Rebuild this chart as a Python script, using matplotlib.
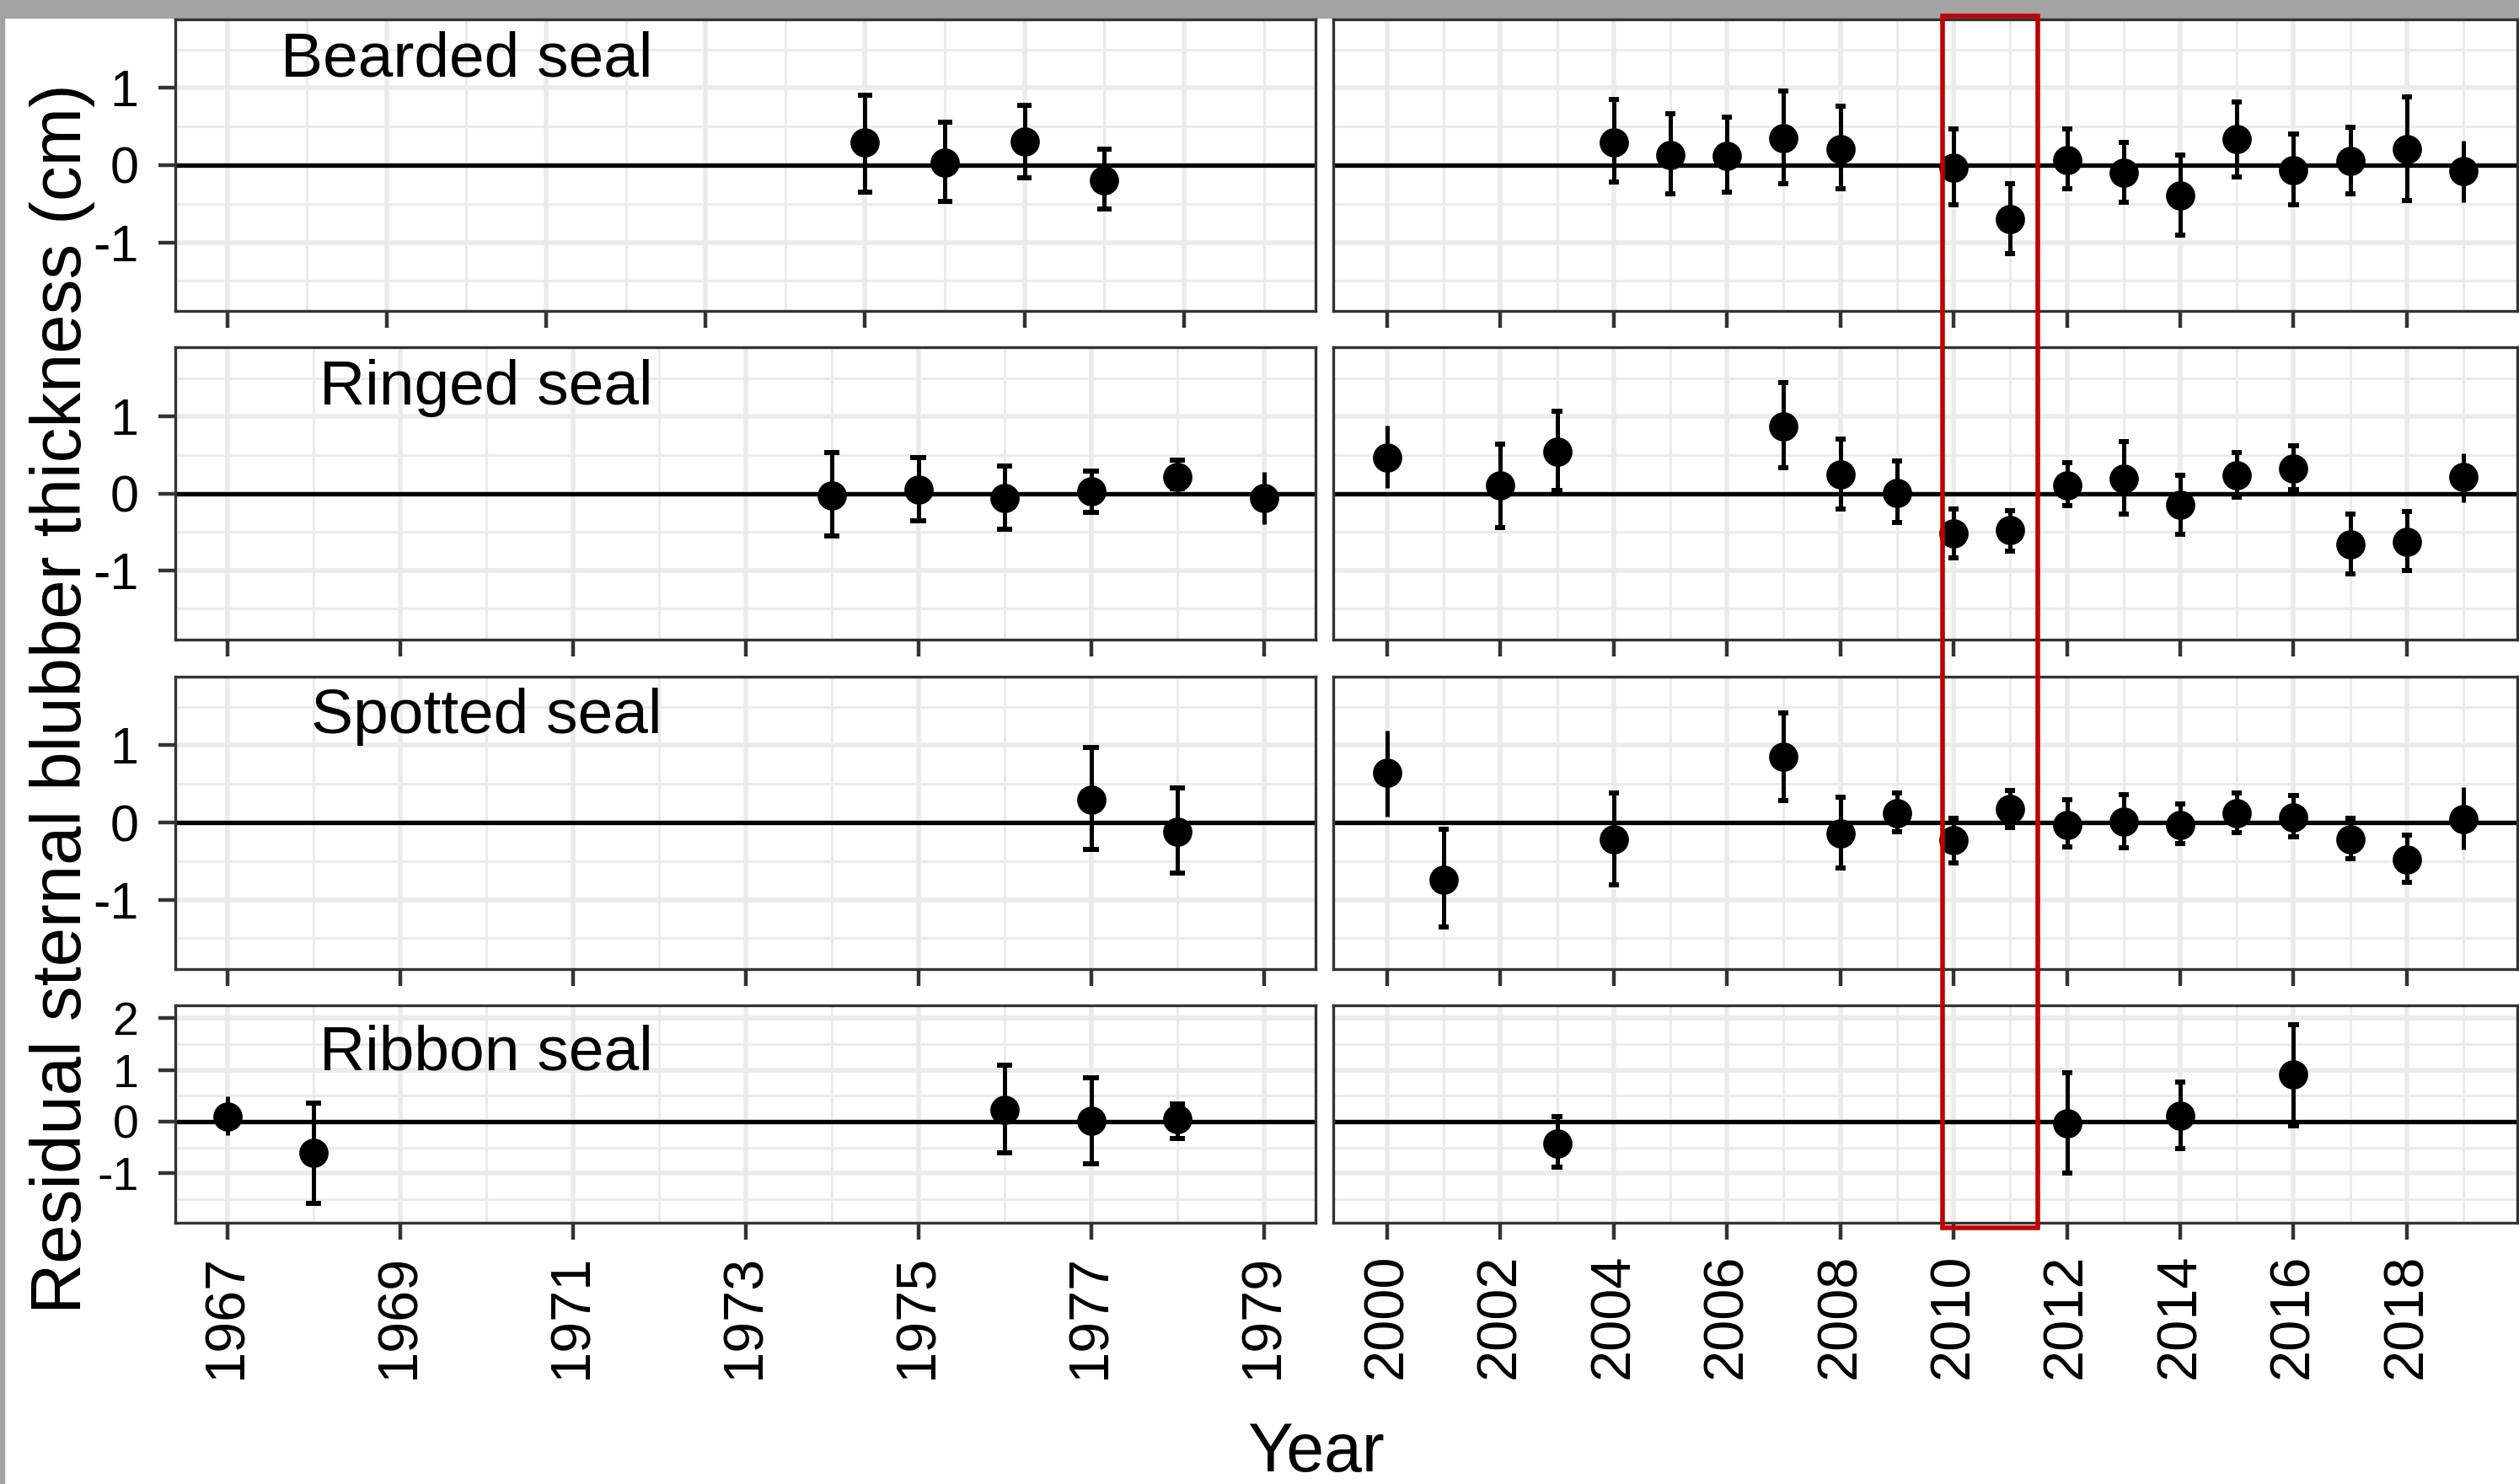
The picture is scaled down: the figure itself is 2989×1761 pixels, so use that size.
import matplotlib.pyplot as plt
from matplotlib.patches import Rectangle
from matplotlib import transforms

plt.rcParams['font.family'] = ['Liberation Sans', 'DejaVu Sans']
plt.rcParams['axes.unicode_minus'] = False

# --- Daten: Residuen (Mittelwert, untere/obere Grenze) ---
species = ['Bearded seal', 'Ringed seal', 'Spotted seal', 'Ribbon seal']

bearded_early_years = [1975, 1976, 1977, 1978]
bearded_early_mean = [0.29, 0.03, 0.31, -0.20]
bearded_early_lo = [-0.35, -0.47, -0.16, -0.57]
bearded_early_hi = [0.91, 0.56, 0.78, 0.21]

bearded_late_years = [2004, 2005, 2006, 2007, 2008, 2010, 2011, 2012, 2013, 2014, 2015, 2016, 2017, 2018, 2019]
bearded_late_mean = [0.30, 0.13, 0.12, 0.35, 0.21, -0.03, -0.70, 0.07, -0.10, -0.39, 0.34, -0.07, 0.05, 0.21, -0.08]
bearded_late_lo = [-0.22, -0.37, -0.35, -0.24, -0.31, -0.51, -1.15, -0.31, -0.48, -0.91, -0.15, -0.51, -0.37, -0.46, -0.48]
bearded_late_hi = [0.85, 0.67, 0.62, 0.96, 0.76, 0.47, -0.24, 0.47, 0.29, 0.13, 0.82, 0.40, 0.49, 0.89, 0.32]

ringed_early_years = [1974, 1975, 1976, 1977, 1978, 1979]
ringed_early_mean = [-0.03, 0.05, -0.06, 0.03, 0.21, -0.06]
ringed_early_lo = [-0.55, -0.36, -0.47, -0.25, 0.06, -0.40]
ringed_early_hi = [0.53, 0.47, 0.36, 0.29, 0.43, 0.28]

ringed_late_years = [2000, 2002, 2003, 2007, 2008, 2009, 2010, 2011, 2012, 2013, 2014, 2015, 2016, 2017, 2018, 2019]
ringed_late_mean = [0.47, 0.10, 0.54, 0.87, 0.25, 0.01, -0.52, -0.48, 0.10, 0.19, -0.15, 0.23, 0.32, -0.66, -0.63, 0.21]
ringed_late_lo = [0.07, -0.44, 0.04, 0.33, -0.20, -0.38, -0.84, -0.75, -0.16, -0.27, -0.53, -0.05, 0.05, -1.05, -1.00, -0.11]
ringed_late_hi = [0.88, 0.64, 1.07, 1.44, 0.71, 0.42, -0.20, -0.22, 0.40, 0.67, 0.24, 0.53, 0.62, -0.27, -0.24, 0.52]

spotted_early_years = [1977, 1978]
spotted_early_mean = [0.29, -0.12]
spotted_early_lo = [-0.35, -0.66]
spotted_early_hi = [0.97, 0.45]

spotted_late_years = [2000, 2001, 2004, 2007, 2008, 2009, 2010, 2011, 2012, 2013, 2014, 2015, 2016, 2017, 2018, 2019]
spotted_late_mean = [0.65, -0.74, -0.22, 0.85, -0.14, 0.12, -0.23, 0.17, -0.03, 0.01, -0.03, 0.12, 0.07, -0.22, -0.48, 0.04]
spotted_late_lo = [0.08, -1.35, -0.81, 0.28, -0.59, -0.12, -0.52, -0.07, -0.32, -0.33, -0.27, -0.13, -0.18, -0.47, -0.78, -0.35]
spotted_late_hi = [1.19, -0.09, 0.38, 1.42, 0.33, 0.38, 0.06, 0.42, 0.29, 0.36, 0.24, 0.38, 0.35, 0.06, -0.16, 0.46]

ribbon_early_years = [1967, 1968, 1976, 1977, 1978]
ribbon_early_mean = [0.09, -0.61, 0.23, 0.02, 0.04]
ribbon_early_lo = [-0.26, -1.58, -0.61, -0.82, -0.33]
ribbon_early_hi = [0.49, 0.36, 1.09, 0.84, 0.34]

ribbon_late_years = [2003, 2012, 2014, 2016]
ribbon_late_mean = [-0.42, -0.03, 0.12, 0.91]
ribbon_late_lo = [-0.88, -0.99, -0.52, -0.08]
ribbon_late_hi = [0.09, 0.95, 0.76, 1.87]

early_ticks = [1967, 1969, 1971, 1973, 1975, 1977, 1979]
late_ticks = [2000, 2002, 2004, 2006, 2008, 2010, 2012, 2014, 2016, 2018]

early = [
    (bearded_early_years, bearded_early_mean, bearded_early_lo, bearded_early_hi),
    (ringed_early_years, ringed_early_mean, ringed_early_lo, ringed_early_hi),
    (spotted_early_years, spotted_early_mean, spotted_early_lo, spotted_early_hi),
    (ribbon_early_years, ribbon_early_mean, ribbon_early_lo, ribbon_early_hi),
]
late = [
    (bearded_late_years, bearded_late_mean, bearded_late_lo, bearded_late_hi),
    (ringed_late_years, ringed_late_mean, ringed_late_lo, ringed_late_hi),
    (spotted_late_years, spotted_late_mean, spotted_late_lo, spotted_late_hi),
    (ribbon_late_years, ribbon_late_mean, ribbon_late_lo, ribbon_late_hi),
]

# Bartrobbe hat links eine etwas breitere Zeitskala (1967-1980)
early_range = [(1967, 1980), (1967, 1979), (1967, 1979), (1967, 1979)]
late_range = (2000, 2019)

W, H = 2989, 1761
fig = plt.figure(figsize=(W / 100, H / 100), dpi=100)

# grauer Rand oben und links
fig.add_artist(Rectangle((0, 1 - 21 / H), 1, 21 / H, transform=fig.transFigure, color='#a3a3a3', zorder=0))
fig.add_artist(Rectangle((0, 0), 5 / W, 1, transform=fig.transFigure, color='#a3a3a3', zorder=0))


def px_axes(x0, x1, y0, y1):
    return fig.add_axes([x0 / W, 1 - y1 / H, (x1 - x0) / W, (y1 - y0) / H])


rows_px = [(23, 369), (412, 759), (803, 1150), (1193, 1451)]
ylims = [(-1.89, 1.89), (-1.90, 1.90), (-1.90, 1.89), (-1.96, 2.25)]
yticks = [[-1, 0, 1]] * 3 + [[-1, 0, 1, 2]]
ytick_size = [44, 44, 44, 40]


def draw_series(ax, years, mean, lo, hi, edges):
    ax.vlines(years, lo, hi, color='black', lw=3.6, zorder=3)
    for y, l, h in zip(years, lo, hi):
        if y in edges:
            continue
        ax.hlines([l, h], y - 0.09, y + 0.09, color='black', lw=4.3, zorder=3)
    ax.plot(years, mean, 'o', color='black', ms=25, mew=0, zorder=4)


def style(ax, xlim, xmaj, xmin, ylim, ymaj, ymin):
    ax.set_xlim(xlim)
    ax.set_ylim(ylim)
    ax.set_xticks(xmaj)
    ax.set_xticks(xmin, minor=True)
    ax.set_yticks(ymaj)
    ax.set_yticks(ymin, minor=True)
    ax.set_axisbelow(True)
    ax.grid(which='major', color='#ebebeb', lw=4)
    ax.grid(which='minor', color='#ebebeb', lw=2.2)
    ax.tick_params(which='minor', length=0)
    ax.tick_params(which='major', length=14.4, width=3.2, color='#333333')
    for s in ax.spines.values():
        s.set_color('#333333')
        s.set_linewidth(2.4)
    ax.axhline(0, color='black', lw=3.8, zorder=2)


axes_right = []
for i, name in enumerate(species):
    y0, y1 = rows_px[i]
    ymin_ticks = [-1.5, -0.5, 0.5, 1.5]

    # linke Spalte: 1967-1980
    axl = px_axes(208, 1561, y0, y1)
    a, b = early_range[i]
    pad = 0.05 * (b - a)
    style(axl, (a - pad, b + pad), early_ticks, list(range(1968, b + 1, 2)),
          ylims[i], yticks[i], ymin_ticks)
    axl.set_yticklabels([str(t) for t in yticks[i]])
    axl.tick_params(axis='y', labelsize=ytick_size[i], pad=17)
    draw_series(axl, *early[i], edges=(a, b))
    off = transforms.offset_copy(axl.transData, fig=fig, y=-27, units='dots')
    axl.text(1970, 1.45, name, ha='center', va='baseline', fontsize=54, transform=off, zorder=5)

    # rechte Spalte: 2000-2019
    axr = px_axes(1582, 2987, y0, y1)
    a, b = late_range
    pad = 0.05 * (b - a)
    style(axr, (a - pad, b + pad), late_ticks, list(range(2001, 2020, 2)),
          ylims[i], yticks[i], ymin_ticks)
    axr.tick_params(axis='y', left=False, labelleft=False)
    draw_series(axr, *late[i], edges=(a, b))
    axes_right.append(axr)

    if i < 3:
        axl.tick_params(axis='x', labelbottom=False)
        axr.tick_params(axis='x', labelbottom=False)
    else:
        for ax in (axl, axr):
            ax.tick_params(axis='x', labelsize=48, pad=12)
            for lab in ax.get_xticklabels():
                lab.set_rotation(90)

# Achsentitel
fig.text(96 / W, 1 - 829 / H, 'Residual sternal blubber thickness (cm)', rotation=90,
         rotation_mode='anchor', ha='center', va='baseline', fontsize=60)
fig.text(1562 / W, 1 - 1746 / H, 'Year', ha='center', va='baseline', fontsize=58)

# roter Rahmen um 2010-2011
blend = transforms.blended_transform_factory(axes_right[-1].transData, fig.transFigure)
fig.add_artist(Rectangle((2009.8, 1 - 1457 / H), 1.68, (1457 - 19) / H, transform=blend,
                         fill=False, ec='#c00000', lw=4, zorder=10))

fig.savefig('out.png', dpi=100)
